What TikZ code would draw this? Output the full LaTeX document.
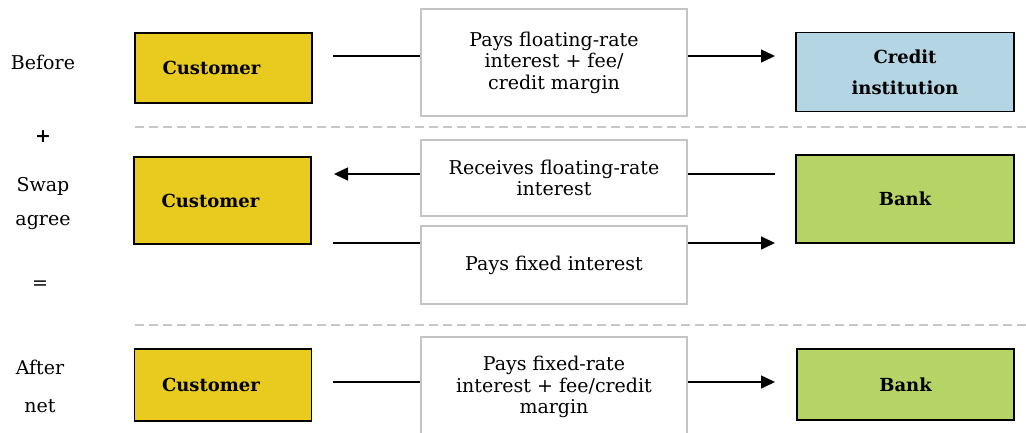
\documentclass[tikz,border=0pt]{standalone}
\usepackage{fontspec}
\setmainfont{DejaVu Serif}
\usetikzlibrary{arrows.meta}
\definecolor{custyellow}{HTML}{E8CB1E}
\definecolor{creditblue}{HTML}{B4D6E4}
\definecolor{bankgreen}{HTML}{B5D465}
\definecolor{boxgray}{HTML}{C4C4C4}
\definecolor{dashgray}{HTML}{C8C8C8}
\tikzset{
  party/.style={draw=black, line width=1.7pt, inner sep=2pt, align=center,
    font=\fontsize{18}{31}\selectfont\bfseries},
  custparty/.style={party, fill=custyellow, text width=150pt, align=left,
    inner xsep=13.5pt},
  flowbox/.style={draw=boxgray, line width=1.3pt, fill=white, inner sep=2pt,
    align=center, font=\fontsize{19}{21.5}\selectfont},
  rowlabel/.style={font=\fontsize{19}{22}\selectfont, inner sep=0pt},
  flow/.style={line width=1.5pt, -{Triangle[length=14pt,width=13pt]}},
  divider/.style={draw=dashgray, line width=1.5pt, dash pattern=on 9pt off 5pt}
}
\begin{document}
\begin{tikzpicture}[x=1pt,y=-1pt]
\useasboundingbox (0,0) rectangle (1026,432);

% row labels
\node[rowlabel] (lbefore) at (43,62) {Before};
\node[rowlabel, font=\fontsize{19}{22}\selectfont\bfseries] (lplus) at (43,137) {+};
\node[rowlabel] (lswap) at (43,186) {Swap};
\node[rowlabel] (lagree) at (43,223) {agree};
\node[rowlabel] (leq) at (40,285) {=};
\node[rowlabel] (lafter) at (40,367) {After};
\node[rowlabel] (lnet) at (40,406) {net};

% dividers
\coordinate (d1a) at (135,127); \coordinate (d1b) at (1026,127);
\coordinate (d2a) at (135,325); \coordinate (d2b) at (1026,325);
\draw[divider] (d1a) -- (d1b);
\draw[divider] (d2a) -- (d2b);

% ---- before ----
\node[custparty, minimum height=70pt] (cust1) at (223.5,68) {\hspace*{14pt}Customer};
\node[party, fill=creditblue, minimum width=218pt, minimum height=79pt] (credit) at (905,72) {Credit\\institution};
\coordinate (s1) at (333,56); \coordinate (e1) at (775,56);
\draw[flow] (s1) -- (e1);
\node[flowbox, minimum width=266pt, minimum height=107pt] (t1) at (554,62.5) {Pays floating-rate\\interest + fee/\\credit margin};

% ---- swap agreement ----
\node[custparty, minimum height=87pt] (cust2) at (222.5,200.5) {\hspace*{14pt}Customer};
\node[party, fill=bankgreen, minimum width=218pt, minimum height=88pt] (bank2) at (905,199) {Bank};
\coordinate (s2) at (775,174); \coordinate (e2) at (334,174);
\draw[flow] (s2) -- (e2);
\coordinate (s3) at (333,243); \coordinate (e3) at (775,243);
\draw[flow] (s3) -- (e3);
\node[flowbox, minimum width=266pt, minimum height=76pt] (t2) at (554,178) {Receives floating-rate\\interest};
\node[flowbox, minimum width=266pt, minimum height=78pt] (t3) at (554,265) {Pays fixed interest};

% ---- after netting ----
\node[custparty, minimum height=72pt] (cust3) at (223,385) {\hspace*{14pt}Customer};
\node[party, fill=bankgreen, minimum width=217pt, minimum height=71pt] (bank3) at (905.5,384.5) {Bank};
\coordinate (s4) at (333,382); \coordinate (e4) at (775,382);
\draw[flow] (s4) -- (e4);
\node[flowbox, minimum width=266pt, minimum height=100pt] (t4) at (554,387) {Pays fixed-rate\\interest + fee/credit\\margin};
\end{tikzpicture}
\end{document}
